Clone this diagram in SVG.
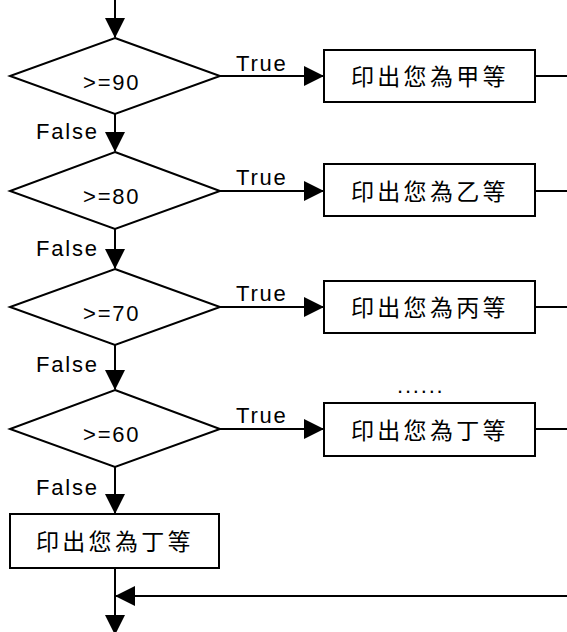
<svg xmlns="http://www.w3.org/2000/svg" width="567" height="632" viewBox="0 0 567 632">
<style>
.shape{fill:#fff;stroke:#000;stroke-width:2}
.conn{fill:none;stroke:#000;stroke-width:2}
.lbl{font-family:"Liberation Sans",Arial,sans-serif;font-size:22px;letter-spacing:1.8px;fill:#000}
.cjk{font-family:"Noto Sans CJK TC","Noto Sans CJK SC",sans-serif;font-size:23px;letter-spacing:3.3px;fill:#000}
</style>
<defs>
<marker id="ah" viewBox="0 0 20 20" refX="19" refY="10" markerWidth="20" markerHeight="20" markerUnits="userSpaceOnUse" orient="auto">
<path d="M0,0 L20,10 L0,20 z" fill="#000"/>
</marker>
</defs>
<rect width="567" height="632" fill="#fff"/>

<g id="connectors">
<line class="conn" x1="115" y1="0" x2="115" y2="37" marker-end="url(#ah)"/>
<line class="conn" x1="220" y1="76" x2="323" y2="76" marker-end="url(#ah)"/>
<line class="conn" x1="535" y1="76" x2="567" y2="76"/>
<line class="conn" x1="115" y1="114" x2="115" y2="151" marker-end="url(#ah)"/>
<line class="conn" x1="220" y1="191" x2="323" y2="191" marker-end="url(#ah)"/>
<line class="conn" x1="535" y1="191" x2="567" y2="191"/>
<line class="conn" x1="115" y1="229" x2="115" y2="268" marker-end="url(#ah)"/>
<line class="conn" x1="220" y1="307" x2="323" y2="307" marker-end="url(#ah)"/>
<line class="conn" x1="535" y1="307" x2="567" y2="307"/>
<line class="conn" x1="115" y1="345" x2="115" y2="389" marker-end="url(#ah)"/>
<line class="conn" x1="220" y1="429" x2="323" y2="429" marker-end="url(#ah)"/>
<line class="conn" x1="535" y1="429" x2="567" y2="429"/>
<line class="conn" x1="115" y1="467" x2="115" y2="513" marker-end="url(#ah)"/>
<line class="conn" x1="115" y1="568" x2="115" y2="634" marker-end="url(#ah)"/>
<line class="conn" x1="567" y1="596" x2="116" y2="596" marker-end="url(#ah)"/>
<text class="lbl" x="236" y="71">True</text>
<text class="lbl" x="236" y="185">True</text>
<text class="lbl" x="236" y="301">True</text>
<text class="lbl" x="236" y="423">True</text>
<text class="lbl" x="36" y="139">False</text>
<text class="lbl" x="36" y="256">False</text>
<text class="lbl" x="36" y="372">False</text>
<text class="lbl" x="36" y="495">False</text>
</g>

<g id="d90">
<polygon class="shape" points="115,38 220,76 115,114 10,76"/>
<text class="lbl" x="83" y="90">&gt;=90</text>
</g>
<g id="d80">
<polygon class="shape" points="115,152 220,191 115,229 10,191"/>
<text class="lbl" x="83" y="204">&gt;=80</text>
</g>
<g id="d70">
<polygon class="shape" points="115,269 220,307 115,345 10,307"/>
<text class="lbl" x="83" y="321">&gt;=70</text>
</g>
<g id="d60">
<polygon class="shape" points="115,390 220,429 115,467 10,429"/>
<text class="lbl" x="83" y="442">&gt;=60</text>
</g>

<g id="r1">
<rect class="shape" x="324" y="50" width="211" height="52"/>
<text class="cjk" x="351" y="85">印出您為甲等</text>
</g>
<g id="r2">
<rect class="shape" x="324" y="164" width="211" height="52"/>
<text class="cjk" x="351" y="200">印出您為乙等</text>
</g>
<g id="r3">
<rect class="shape" x="324" y="281" width="211" height="52"/>
<text class="cjk" x="351" y="316">印出您為丙等</text>
</g>
<g id="r4">
<rect class="shape" x="324" y="403" width="211" height="53"/>
<text class="cjk" x="351" y="439">印出您為丁等</text>
</g>
<g id="dots">
<text class="lbl" x="397" y="393">......</text>
</g>
<g id="r5">
<rect class="shape" x="10" y="514" width="209" height="54"/>
<text class="cjk" x="36" y="550">印出您為丁等</text>
</g>
</svg>
